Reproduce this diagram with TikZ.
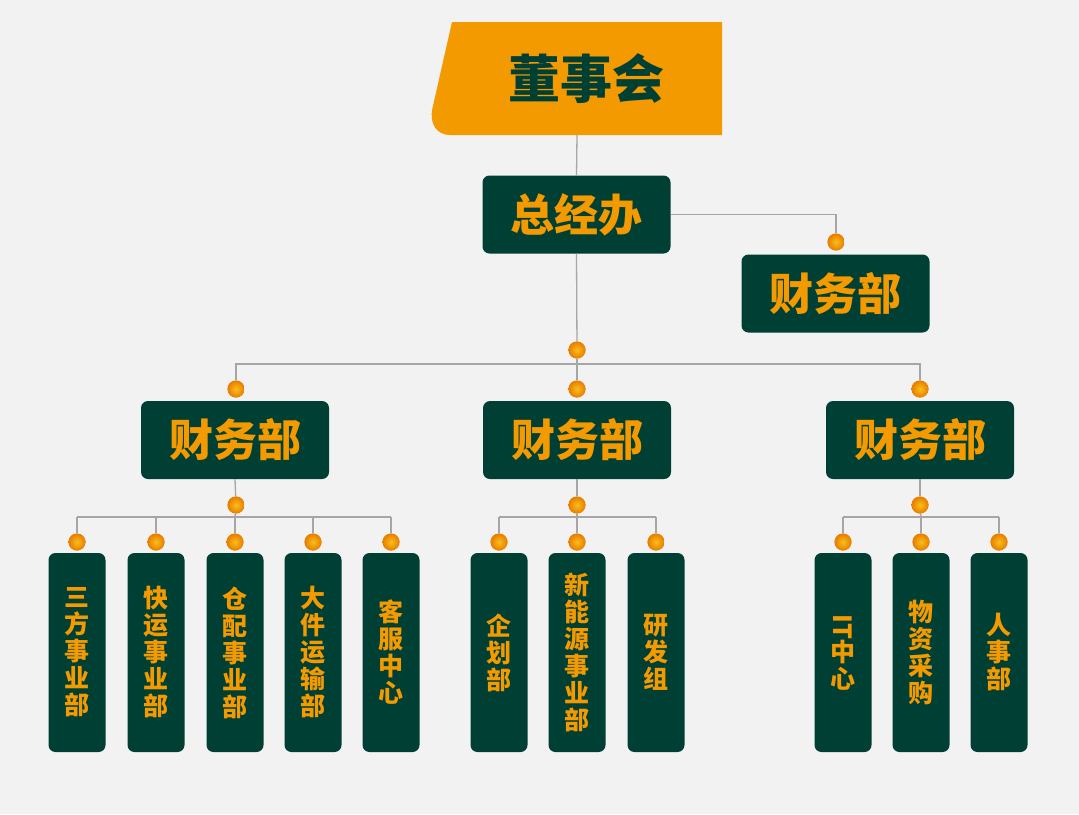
\documentclass[tikz,border=0pt]{standalone}
\usepackage{fontspec}
\newfontfamily\cjk{Noto Sans CJK SC}
\definecolor{bg}{HTML}{F2F2F2}
\definecolor{dg}{HTML}{003F33}
\definecolor{og}{HTML}{F39A00}
\definecolor{ln}{HTML}{A6A6A6}
\begin{document}
\begin{tikzpicture}[x=1pt,y=-1pt,
  gbox/.style={fill=dg,rounded corners=7pt,text=og,font=\cjk\bfseries\fontsize{44}{48}\selectfont,inner sep=0pt,minimum width=188pt,minimum height=78pt},
  vbox/.style={fill=dg,rounded corners=7pt,text=og,font=\cjk\bfseries\fontsize{25}{27}\selectfont,inner sep=0pt,minimum width=57pt,minimum height=199pt,align=center},
  dot/.style={circle,inner sep=0pt,minimum size=17pt,inner color=og!70!yellow!90!white,outer color=og!85!red!95!black,shading=radial},
  conn/.style={draw=ln,line width=1.3pt}]
\fill[bg] (0,0) rectangle (1079,814);
\useasboundingbox (0,0) rectangle (1079,814);
% top shape
\fill[og] (722,22) -- (722,135) -- (450,135) .. controls (437,135) and (428.9,124) .. (432.5,108) -- (452,22) -- cycle;
\node[text=dg,font=\cjk\bfseries\fontsize{52}{56}\selectfont,inner sep=0pt] (dsh) at (586,79) {董事会};
\coordinate (topb) at (577,135);
% level 1
\node[gbox] (zjb) at (576.5,214.5) {总经办};
\node[gbox] (cwR) at (835.5,293.5) {财务部};
\node[dot] (dF) at (836,242) {};
\node[dot] (d0) at (577,350) {};
\coordinate (bus) at (577,364);
% level 2
\node[gbox] (cwL) at (235,440) {财务部};
\node[gbox] (cwM) at (577,440) {财务部};
\node[gbox] (cwN) at (920,440) {财务部};
\node[dot] (dL) at (236,389) {};
\node[dot] (dM) at (577,389) {};
\node[dot] (dN) at (920,389) {};
\node[dot] (eL) at (236,505) {};
\node[dot] (eM) at (577,505) {};
\node[dot] (eN) at (920,505) {};
% connectors
\draw[conn] (topb) -- (zjb.north);
\draw[conn] (zjb.south) -- (d0);
\draw[conn] (zjb.east) -- (zjb.east -| dF) -- (dF);
\draw[conn] (d0) -- (bus);
\draw[conn] (dL) -- (dL |- bus) -- (dN |- bus) -- (dN);
\draw[conn] (bus) -- (dM);
\draw[conn] (cwL.south) -- (eL);
\draw[conn] (cwM.south) -- (eM);
\draw[conn] (cwN.south) -- (eN);
% redraw dots on top
\foreach \x/\y in {836/242,577/350,236/389,577/389,920/389}{\node[dot] at (\x,\y) {};}
% level 3
\foreach \n/\x/\t in {a1/77/{三\\方\\事\\业\\部},a2/156/{快\\运\\事\\业\\部},a3/235/{仓\\配\\事\\业\\部},a4/313/{大\\件\\运\\输\\部},a5/391/{客\\服\\中\\心},
  b1/499/{企\\划\\部},b2/577/{新\\能\\源\\事\\业\\部},b3/656/{研\\发\\组},
  c1/843/{\rotatebox{-90}{IT}\\中\\心},c2/921/{物\\资\\采\\购},c3/999/{人\\事\\部}}{
  \node[vbox] (\n) at (\x,652.5) {\t};
  \coordinate (k\n) at (\x,517);
}
\draw[conn] (eL) -- (ka3); \draw[conn] (ka1) -- (ka5);
\draw[conn] (eM) -- (kb2); \draw[conn] (kb1) -- (kb3);
\draw[conn] (eN) -- (kc2); \draw[conn] (kc1) -- (kc3);
\foreach \n in {a1,a2,a3,a4,a5,b1,b2,b3,c1,c2,c3}{
  \node[dot] (p\n) at (\n.north |- 0,542) {};
  \draw[conn] (k\n) -- (p\n);
  \node[dot] at (p\n) {};
}
\foreach \x/\y in {236/505,577/505,920/505}{\node[dot] at (\x,\y) {};}
\end{tikzpicture}
\end{document}
